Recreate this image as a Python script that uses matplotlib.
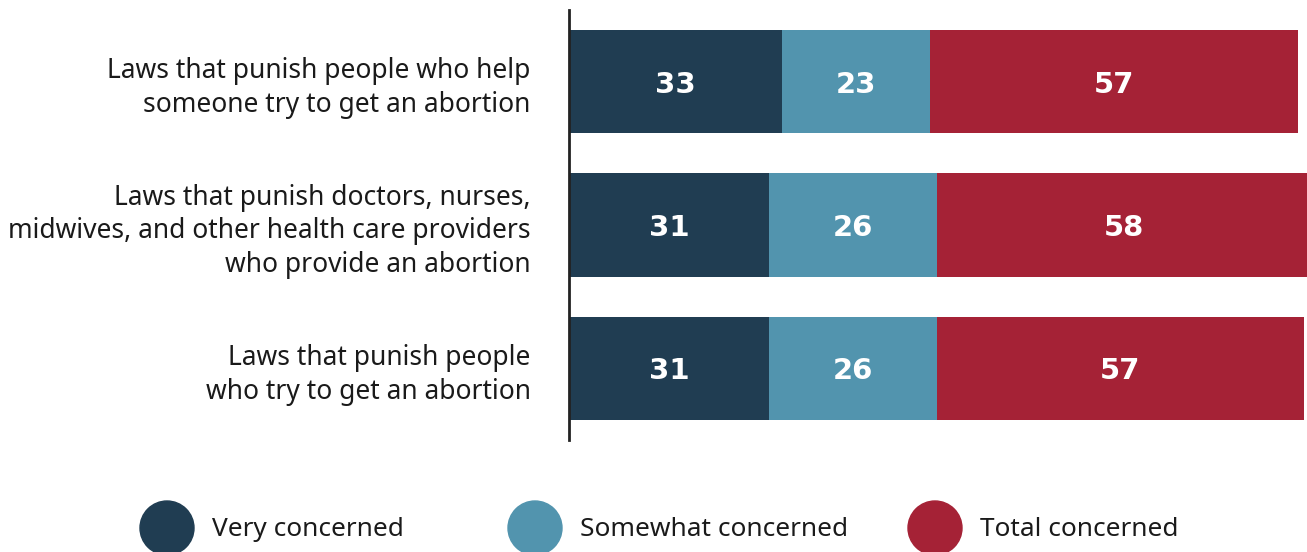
import matplotlib.pyplot as plt
from matplotlib.patches import Ellipse

plt.rcParams['font.family'] = ['Noto Sans', 'DejaVu Sans']

questions = [
    "Laws that punish people who help\nsomeone try to get an abortion",
    "Laws that punish doctors, nurses,\nmidwives, and other health care providers\nwho provide an abortion",
    "Laws that punish people\nwho try to get an abortion",
]
very = [33, 31, 31]
somewhat = [23, 26, 26]
total = [57, 58, 57]

series_names = ["Very concerned", "Somewhat concerned", "Total concerned"]
colors = ["#203d52", "#5294ae", "#a52236"]

W, H = 1307, 552
fig = plt.figure(figsize=(W / 100, H / 100), dpi=100)
ax = fig.add_axes([569 / W, 1 - 440 / H, 1 - 569 / W, 430 / H])

y = list(range(len(questions)))
left = [0] * len(questions)
for vals, c in zip([very, somewhat, total], colors):
    ax.barh(y, vals, left=left, height=0.72, color=c, linewidth=0)
    for yi, v, l in zip(y, vals, left):
        ax.text(l + v / 2, yi + 0.02, str(v), ha='center', va='center',
                color='white', fontsize=21, fontweight='bold',
                family='DejaVu Sans')
    left = [l + v for l, v in zip(left, vals)]

ax.set_xlim(0, (W - 569) / 6.45)
ax.set_ylim(2.5, -0.5)
ax.set_yticks(y)
ax.set_yticklabels(questions, fontsize=19, color='#1a1a1a', linespacing=1.27)
ax.tick_params(axis='y', length=0, pad=27.6)
ax.set_xticks([])
for s in ['top', 'right', 'bottom']:
    ax.spines[s].set_visible(False)
ax.spines['left'].set_linewidth(2)
ax.spines['left'].set_color('#222222')

# legend row along the bottom
legend_x = [167, 535, 935]
for name, c, lx in zip(series_names, colors, legend_x):
    fig.patches.append(Ellipse((lx / W, 1 - 528 / H), 54 / W, 54 / H,
                               transform=fig.transFigure, color=c))
    fig.text((lx + 45) / W, 1 - 530 / H, name, fontsize=18.9, color='#1a1a1a',
             va='center', ha='left')

fig.savefig('out.png', dpi=100)
